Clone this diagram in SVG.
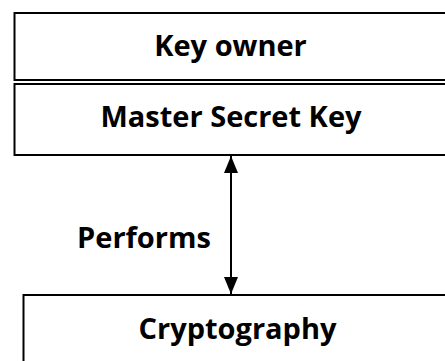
<svg xmlns="http://www.w3.org/2000/svg" width="445" height="361" viewBox="0 0 445 361">
<style>
.box{fill:#fff;stroke:#000;stroke-width:2}
.lbl{font-family:"Open Sans","Noto Sans",sans-serif;font-weight:bold;font-size:29px;fill:#000;text-anchor:middle}
.conn{stroke:#000;stroke-width:2;fill:none}
</style>
<defs>
<marker id="ah" viewBox="0 0 17 14" refX="17" refY="7" markerWidth="17" markerHeight="14" orient="auto-start-reverse" markerUnits="userSpaceOnUse">
<path d="M0,0 L17,7 L0,14 Z" fill="#000"/>
</marker>
</defs>
<rect width="445" height="361" fill="#fff"/>
<g id="key-owner">
<rect class="box" x="14.5" y="13" width="450" height="67"/>
<text class="lbl" x="230.5" y="56">Key owner</text>
</g>
<g id="master-secret-key">
<rect class="box" x="14.5" y="84" width="450" height="71"/>
<text class="lbl" x="231" y="127">Master Secret Key</text>
</g>
<g id="cryptography">
<rect class="box" x="23.5" y="295" width="450" height="100"/>
<text class="lbl" x="237.5" y="339">Cryptography</text>
</g>
<g id="connectors">
<line class="conn" x1="231" y1="156" x2="231" y2="294" marker-start="url(#ah)" marker-end="url(#ah)"/>
<text class="lbl" x="144" y="248">Performs</text>
</g>
</svg>
